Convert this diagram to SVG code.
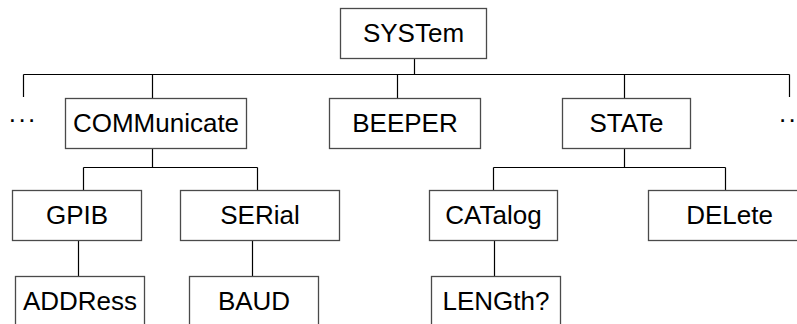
<svg xmlns="http://www.w3.org/2000/svg" width="797" height="324" viewBox="0 0 797 324">
<style>
.box{fill:#fff;stroke:#4a4a4a;stroke-width:1.3}
.lbl{font-family:"Liberation Sans",Arial,sans-serif;font-size:26px;fill:#000;text-anchor:middle}
.dots{font-family:"Liberation Sans",Arial,sans-serif;font-size:26px;fill:#000;letter-spacing:2.4px}
.con{fill:none;stroke:#000;stroke-width:1.2}
</style>
<rect width="797" height="324" fill="#fff"/>
<g id="connectors">
<path class="con" d="M414.5 58.5V74.5M23.5 74.5H789.5M23.5 74.5V97M152.5 74.5V98.5M397.5 74.5V98.5M624.5 74.5V98.5M789.5 74.5V97"/>
<path class="con" d="M152.5 148.5V167.5M83.5 167.5H257.5M83.5 167.5V190.5M257.5 167.5V190.5"/>
<path class="con" d="M624.5 148.5V167.5M493.5 167.5H725.5M493.5 167.5V190.5M725.5 167.5V190.5"/>
<path class="con" d="M78.5 240.5V276.5M252.5 240.5V276.5M494.5 240.5V276.5"/>
</g>
<g id="SYSTem"><rect class="box" x="340.5" y="8.5" width="146" height="50"/><text class="lbl" x="413.5" y="42.3">SYSTem</text></g>
<g id="dots-left"><text class="dots" x="8.8" y="122">...</text></g>
<g id="COMMunicate"><rect class="box" x="65.5" y="98.5" width="181" height="50"/><text class="lbl" x="156" y="132.3">COMMunicate</text></g>
<g id="BEEPER"><rect class="box" x="329.5" y="98.5" width="151" height="50"/><text class="lbl" x="405" y="132.3">BEEPER</text></g>
<g id="STATe"><rect class="box" x="562.5" y="98.5" width="128" height="50"/><text class="lbl" x="626.5" y="132.3">STATe</text></g>
<g id="dots-right"><text class="dots" x="779" y="122">...</text></g>
<g id="GPIB"><rect class="box" x="12.5" y="190.5" width="129" height="50"/><text class="lbl" x="77" y="224.3">GPIB</text></g>
<g id="SERial"><rect class="box" x="180.5" y="190.5" width="159" height="50"/><text class="lbl" x="260" y="224.3">SERial</text></g>
<g id="CATalog"><rect class="box" x="429.5" y="190.5" width="128" height="50"/><text class="lbl" x="493.5" y="224.3">CATalog</text></g>
<g id="DELete"><rect class="box" x="648.5" y="190.5" width="162" height="50"/><text class="lbl" x="729.5" y="224.3">DELete</text></g>
<g id="ADDRess"><rect class="box" x="15.5" y="276.5" width="129" height="50"/><text class="lbl" x="80" y="310">ADDRess</text></g>
<g id="BAUD"><rect class="box" x="189.5" y="276.5" width="129" height="50"/><text class="lbl" x="254" y="310">BAUD</text></g>
<g id="LENGth"><rect class="box" x="431.5" y="276.5" width="129" height="50"/><text class="lbl" x="496" y="310">LENGth?</text></g>
</svg>
